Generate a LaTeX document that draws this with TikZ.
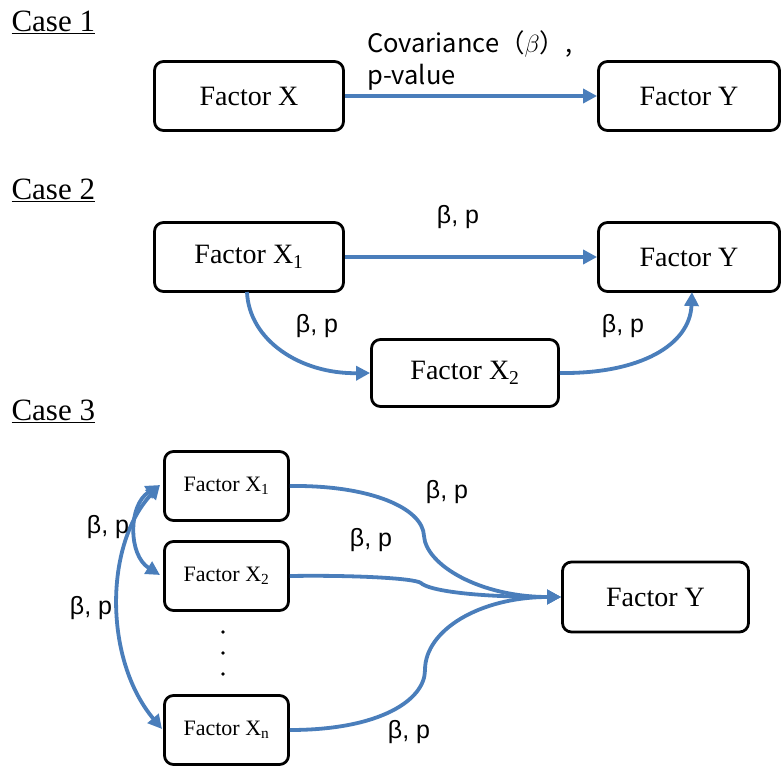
\documentclass[tikz,border=0pt]{standalone}
\usepackage{fontspec}
\setmainfont{Liberation Serif}
\newfontfamily\lblfont{Liberation Sans}
\newfontfamily\jpfont{Noto Sans CJK JP}
\usetikzlibrary{arrows.meta}
\definecolor{linkblue}{RGB}{74,126,187}

\begin{document}
\begin{tikzpicture}[x=1pt,y=-1pt,
  box/.style={draw,line width=2.8pt,rounded corners=9pt,inner sep=0pt,
              font=\fontsize{28}{30}\selectfont},
  smallbox/.style={box,font=\fontsize{22}{24}\selectfont},
  tip/.tip={Triangle[length=14pt,width=14pt]},
  link/.style={draw=linkblue,line width=3.8pt,-tip},
  both/.style={draw=linkblue,line width=3.8pt,tip-tip},
  lbl/.style={font=\lblfont\fontsize{25}{28}\selectfont},
  casetitle/.style={anchor=west,font=\fontsize{31}{34}\selectfont}]
\useasboundingbox (0,0) rectangle (781,767);

% ---- Case 1 ----
\node[casetitle] (c1) at (8,22) {\underline{Case 1}};
\node[box,minimum width=189pt,minimum height=69pt] (ax) at (249,96) {Factor X};
\node[box,minimum width=181pt,minimum height=69pt] (ay) at (689,96) {Factor Y};
\draw[link] (ax.east) -- (ay.west);
\node[anchor=north west,align=left,inner sep=0pt,
      font=\jpfont\fontsize{25.5}{32}\selectfont] (acov) at (367,30)
  {Covariance（$\beta$）,\\p-value};

% ---- Case 2 ----
\node[casetitle] (c2) at (8,190) {\underline{Case 2}};
\node[box,minimum width=189pt,minimum height=69pt] (bx1) at (249,257) {Factor X\textsubscript{1}};
\node[box,minimum width=181pt,minimum height=69pt] (by) at (689,257) {Factor Y};
\node[box,minimum width=187pt,minimum height=67pt] (bx2) at (465,373) {Factor X\textsubscript{2}};
\coordinate (bx1s) at (247,292);
\coordinate (bys) at (692,292);
\draw[link] (bx1.east) -- (by.west);
\draw[link] (bx1s) .. controls (249,340) and (300,374) .. (bx2.west);
\draw[link] (bx2.east) .. controls (640,374) and (690,345) .. (bys);
\node[lbl] (bl1) at (458,217) {β, p};
\node[lbl] (bl2) at (317,326) {β, p};
\node[lbl] (bl3) at (623,326) {β, p};

% ---- Case 3 ----
\node[casetitle] (c3) at (8,411) {\underline{Case 3}};
\node[smallbox,minimum width=124pt,minimum height=69pt] (cx1) at (226.5,486) {Factor X\textsubscript{1}};
\node[smallbox,minimum width=124pt,minimum height=69pt] (cx2) at (226.5,576) {Factor X\textsubscript{2}};
\node[smallbox,minimum width=124pt,minimum height=69pt] (cxn) at (226.5,730) {Factor X\textsubscript{n}};
\node[box,font=\fontsize{28}{31}\selectfont,minimum width=186pt,minimum height=70pt] (cy) at (655.5,597) {Factor Y};
\fill (223,632) circle (1.8pt) (223,653) circle (1.8pt) (223,674) circle (1.8pt);

% paths into Factor Y
\draw[link] (cx1.east) .. controls (370,485) and (423,508) .. (424,536)
            .. controls (426,565) and (480,597) .. (cy.west);
\draw[link] (cx2.east) .. controls (350,575) and (414,578) .. (421,583)
            .. controls (428,590) and (470,597) .. (cy.west);
\draw[link] (cxn.east) .. controls (380,730) and (425,700) .. (425,670)
            .. controls (425,630) and (480,597) .. (cy.west);

% correlations among the X factors
\coordinate (cx1w) at (160,485);
\coordinate (cx2w) at (160,575);
\coordinate (cxnw) at (162,729);
\draw[both] (cx1w) .. controls (128,505) and (128,555) .. (cx2w);
\draw[both] (cx1w) .. controls (104,545) and (104,660) .. (cxnw);

\node[lbl] (cl1) at (447,492) {β, p};
\node[lbl] (cl2) at (371,540) {β, p};
\node[lbl] (cl3) at (409,732) {β, p};
\node[lbl] (cl4) at (108,527) {β, p};
\node[lbl] (cl5) at (91,608) {β, p};
\end{tikzpicture}
\end{document}
